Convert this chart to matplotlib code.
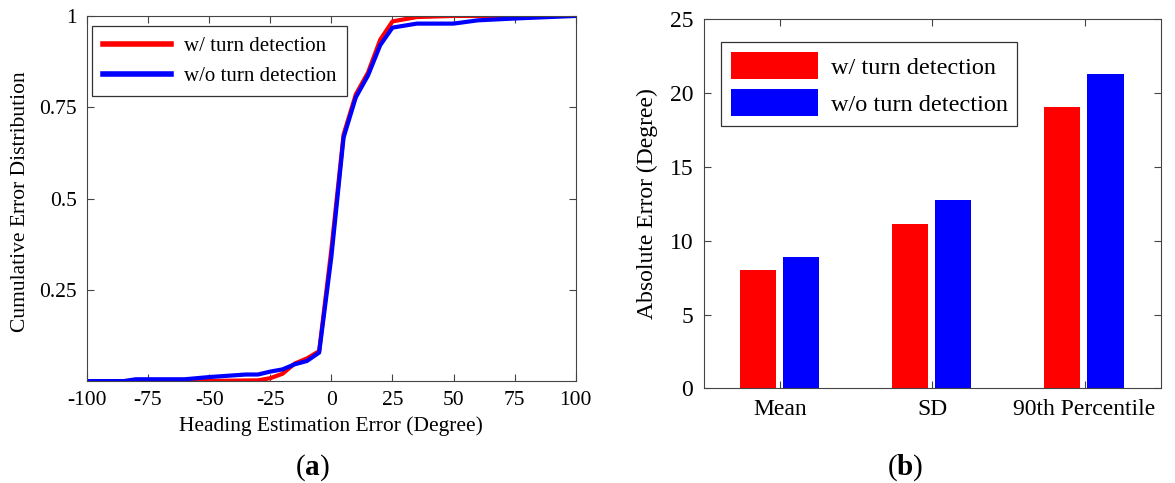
import matplotlib
matplotlib.use("Agg")
import matplotlib.pyplot as plt
import numpy as np

plt.rcParams["font.family"] = ["Liberation Serif", "DejaVu Serif"]
plt.rcParams["mathtext.fontset"] = "custom"
plt.rcParams["mathtext.rm"] = "Liberation Serif"
plt.rcParams["mathtext.bf"] = "Liberation Serif:bold"
plt.rcParams["axes.unicode_minus"] = False

# (a) 累积误差分布曲线
err_with = [-100, -85, -80, -55, -30, -25, -20, -15, -10, -5, 0, 5, 10, 15, 20, 25, 35, 50, 100]
cdf_with = [0, 0, 0.0, 0.0, 0.002, 0.008, 0.02, 0.048, 0.062, 0.082, 0.36, 0.675, 0.785, 0.845, 0.935, 0.985, 0.997, 1.0, 1.0]
err_without = [-100, -85, -80, -60, -50, -35, -30, -25, -20, -15, -10, -5, 0, 5, 10, 15, 20, 25, 35, 50, 60, 75, 100]
cdf_without = [0, 0, 0.005, 0.005, 0.011, 0.018, 0.018, 0.026, 0.032, 0.046, 0.055, 0.078, 0.34, 0.667, 0.777, 0.837, 0.92, 0.968, 0.979, 0.979, 0.988, 0.993, 1.0]

# (b) 绝对误差柱状图
categories = ["Mean", "SD", "90th Percentile"]
abs_with = [8.05, 11.13, 19.08]
abs_without = [8.92, 12.76, 21.32]

labels = ["w/ turn detection", "w/o turn detection"]
frame_col = "#444444"

fig = plt.figure(figsize=(11.75, 4.83), dpi=100)

# 左图
ax1 = fig.add_axes([0.074, 0.211, 0.416, 0.756])
ax1.plot(err_with, cdf_with, color="red", linewidth=3, label=labels[0])
ax1.plot(err_without, cdf_without, color="blue", linewidth=3, label=labels[1])
ax1.set_xlim(-100, 100)
ax1.set_ylim(0, 1)
ax1.set_xticks(range(-100, 101, 25))
ax1.set_yticks([0.25, 0.5, 0.75, 1])
ax1.set_yticklabels(["0.25", "0.5", "0.75", "1"])
ax1.set_xlabel("Heading Estimation Error (Degree)", fontsize=15.5, labelpad=5)
ax1.set_ylabel("Cumulative Error Distribution", fontsize=15.5)
ax1.yaxis.set_label_coords(-0.116, 0.49)
ax1.tick_params(direction="in", top=True, right=True, labelsize=15.5, length=5,
                color=frame_col, pad=7)
for s in ax1.spines.values():
    s.set_color(frame_col)
leg1 = ax1.legend(loc="upper left", bbox_to_anchor=(0.011, 0.973), fontsize=15,
                  frameon=True, fancybox=False, edgecolor="black",
                  handlelength=3.3, borderaxespad=0, borderpad=0.5,
                  labelspacing=0.5, handletextpad=0.6)
leg1.get_frame().set_linewidth(0.9)
for ln in leg1.get_lines():
    ln.set_linewidth(4)

# 右图
ax2 = fig.add_axes([0.5994, 0.196, 0.3884, 0.764])
x = np.arange(1, len(categories) + 1)
w = 0.24
ax2.bar(x - 0.148, abs_with, width=w, color="red", label=labels[0])
ax2.bar(x + 0.136, abs_without, width=w, color="blue", label=labels[1])
ax2.set_xlim(0.5, 3.5)
ax2.set_ylim(0, 25)
ax2.set_xticks(x)
ax2.set_xticklabels(categories)
ax2.set_yticks(range(0, 26, 5))
ax2.set_ylabel("Absolute Error (Degree)", fontsize=17, labelpad=8)
ax2.tick_params(direction="in", top=True, right=True, labelsize=17, length=5,
                color=frame_col, pad=8)
for s in ax2.spines.values():
    s.set_color(frame_col)
leg2 = ax2.legend(loc="upper left", bbox_to_anchor=(0.037, 0.938), fontsize=17.5,
                  frameon=True, fancybox=False, edgecolor="black",
                  handlelength=3.6, handleheight=1.35, borderaxespad=0,
                  borderpad=0.4, labelspacing=0.4, handletextpad=0.5)
leg2.get_frame().set_linewidth(0.9)

# 子图标号
fig.text(0.266, 0.018, r"($\mathbf{a}$)", fontsize=21, ha="center")
fig.text(0.770, 0.018, r"($\mathbf{b}$)", fontsize=21, ha="center")

fig.savefig("out.png", dpi=100)
